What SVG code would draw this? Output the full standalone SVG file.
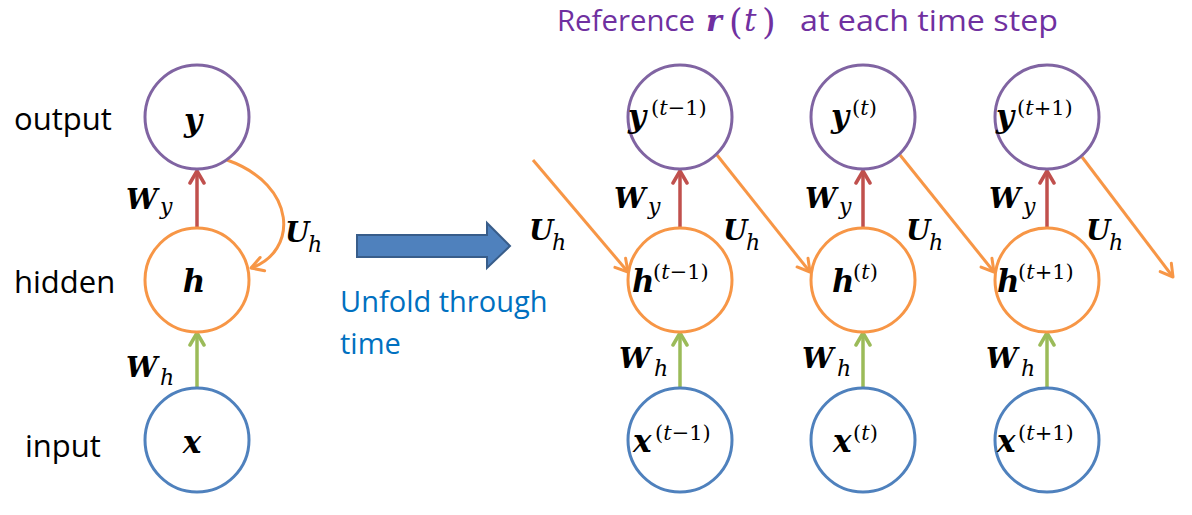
<svg xmlns="http://www.w3.org/2000/svg" width="1192" height="515" viewBox="0 0 1192 515">
<style>
.lbl{font-family:"Open Sans","Liberation Sans",sans-serif;font-size:31px;fill:#000}
.m{font-family:"DejaVu Serif","Liberation Serif",serif;font-weight:bold;font-style:italic;fill:#000}
.big{font-size:31px}
.w{font-size:28px}
.sub{font-family:"DejaVu Serif","Liberation Serif",serif;font-style:italic;font-size:22px;fill:#000}
.sup{font-family:"DejaVu Serif","Liberation Serif",serif;font-size:21px;fill:#000}
.it{font-style:italic}
.cy{fill:#fff;stroke:#8064A2;stroke-width:3}
.ch{fill:#fff;stroke:#F79646;stroke-width:3}
.cx{fill:#fff;stroke:#4F81BD;stroke-width:3}
.ar{fill:none;stroke:#C0504D;stroke-width:3.5}
.ag{fill:none;stroke:#9BBB59;stroke-width:3.5}
.ao{fill:none;stroke:#F79646;stroke-width:3}
</style>
<defs>
<marker id="mr" viewBox="0 0 18 18" refX="15" refY="9" markerWidth="18" markerHeight="18" markerUnits="userSpaceOnUse" orient="auto"><path d="M3,2 L15,9 L3,16" fill="none" stroke="#C0504D" stroke-width="3.5" stroke-linejoin="round" stroke-linecap="round"/></marker>
<marker id="mg" viewBox="0 0 18 18" refX="15" refY="9" markerWidth="18" markerHeight="18" markerUnits="userSpaceOnUse" orient="auto"><path d="M3,2 L15,9 L3,16" fill="none" stroke="#9BBB59" stroke-width="3.5" stroke-linejoin="round" stroke-linecap="round"/></marker>
<marker id="mo" viewBox="0 0 18 18" refX="15" refY="9" markerWidth="18" markerHeight="18" markerUnits="userSpaceOnUse" orient="auto"><path d="M3,2 L15,9 L3,16" fill="none" stroke="#F79646" stroke-width="3" stroke-linejoin="round" stroke-linecap="round"/></marker>
</defs>
<rect width="1192" height="515" fill="#fff"/>

<g id="title" fill="#7030A0">
<text x="557" y="31" font-family="Open Sans, Liberation Sans, sans-serif" font-size="29" textLength="138" lengthAdjust="spacingAndGlyphs">Reference</text>
<text x="706" y="31" font-family="DejaVu Serif, Liberation Serif, serif" font-weight="bold" font-style="italic" font-size="30">r</text>
<text y="34" font-family="DejaVu Serif, Liberation Serif, serif" font-size="35"><tspan x="729">(</tspan><tspan x="744" font-style="italic" font-size="31" dy="-3">t</tspan><tspan x="762" dy="3">)</tspan></text>
<text x="800" y="31" font-family="Open Sans, Liberation Sans, sans-serif" font-size="29" textLength="258" lengthAdjust="spacingAndGlyphs">at each time step</text>
</g>

<g id="row-labels">
<text class="lbl" x="14" y="130">output</text>
<text class="lbl" x="14" y="293">hidden</text>
<text class="lbl" x="25" y="457">input</text>
</g>

<g id="unfold-arrow">
<polygon points="357,235 487,235 487,223 510,246 487,268 487,257 357,257" fill="#4F81BD" stroke="#385D8A" stroke-width="2"/>
<text x="340" y="312" font-family="Open Sans, Liberation Sans, sans-serif" font-size="29" fill="#0070C0">Unfold through</text>
<text x="340" y="354" font-family="Open Sans, Liberation Sans, sans-serif" font-size="29" fill="#0070C0">time</text>
</g>

<g id="connectors">
<path class="ar" d="M197,228 L197,171" marker-end="url(#mr)"/>
<path class="ag" d="M197,388 L197,333" marker-end="url(#mg)"/>
<path class="ao" d="M227,160 C298,185 298,252 251,268" marker-end="url(#mo)"/>
<path class="ar" d="M680,228 L680,171" marker-end="url(#mr)"/>
<path class="ar" d="M863,228 L863,171" marker-end="url(#mr)"/>
<path class="ar" d="M1047,228 L1047,171" marker-end="url(#mr)"/>
<path class="ag" d="M680,388 L680,333" marker-end="url(#mg)"/>
<path class="ag" d="M863,388 L863,333" marker-end="url(#mg)"/>
<path class="ag" d="M1047,388 L1047,333" marker-end="url(#mg)"/>
<path class="ao" d="M533,160 L628,272" marker-end="url(#mo)"/>
<path class="ao" d="M717,155 L810,272" marker-end="url(#mo)"/>
<path class="ao" d="M900,155 L994,272" marker-end="url(#mo)"/>
<path class="ao" d="M1082,157 L1173,277" marker-end="url(#mo)"/>
</g>

<g id="conn-labels">
<text class="m w" x="126" y="209">W</text><text class="sub" x="160" y="214">y</text>
<text class="m w" x="126" y="377">W</text><text class="sub" x="160" y="385">h</text>
<text class="m w" x="285" y="242">U</text><text class="sub" x="308" y="252">h</text>
<text class="m w" x="529" y="240">U</text><text class="sub" x="552" y="250">h</text>
<text class="m w" x="723" y="240">U</text><text class="sub" x="746" y="250">h</text>
<text class="m w" x="906" y="240">U</text><text class="sub" x="929" y="250">h</text>
<text class="m w" x="1086" y="240">U</text><text class="sub" x="1109" y="250">h</text>
<text class="m w" x="614" y="208">W</text><text class="sub" x="648" y="214">y</text>
<text class="m w" x="805" y="208">W</text><text class="sub" x="839" y="214">y</text>
<text class="m w" x="989" y="208">W</text><text class="sub" x="1023" y="214">y</text>
<text class="m w" x="619" y="368">W</text><text class="sub" x="654" y="376">h</text>
<text class="m w" x="802" y="368">W</text><text class="sub" x="837" y="376">h</text>
<text class="m w" x="986" y="368">W</text><text class="sub" x="1021" y="376">h</text>
</g>

<g id="node-y"><circle class="cy" cx="197" cy="117" r="52"/><text class="m big" x="193" y="131" text-anchor="middle">y</text></g>
<g id="node-h"><circle class="ch" cx="197" cy="280" r="52"/><text class="m big" x="194" y="292" text-anchor="middle">h</text></g>
<g id="node-x"><circle class="cx" cx="197" cy="440" r="52"/><text class="m big" x="192" y="453" text-anchor="middle">x</text></g>

<g id="node-y1"><circle class="cy" cx="680" cy="117" r="52"/><text class="m big" x="628" y="127">y</text><text class="sup" x="651" y="115">(<tspan class="it">t</tspan>−1)</text></g>
<g id="node-y2"><circle class="cy" cx="863" cy="117" r="52"/><text class="m big" x="831" y="127">y</text><text class="sup" x="852" y="115">(<tspan class="it">t</tspan>)</text></g>
<g id="node-y3"><circle class="cy" cx="1047" cy="117" r="52"/><text class="m big" x="996" y="127">y</text><text class="sup" x="1017" y="115">(<tspan class="it">t</tspan>+1)</text></g>

<g id="node-h1"><circle class="ch" cx="680" cy="280" r="52"/><text class="m big" x="632" y="292">h</text><text class="sup" x="653" y="279">(<tspan class="it">t</tspan>−1)</text></g>
<g id="node-h2"><circle class="ch" cx="863" cy="280" r="52"/><text class="m big" x="832" y="292">h</text><text class="sup" x="853" y="279">(<tspan class="it">t</tspan>)</text></g>
<g id="node-h3"><circle class="ch" cx="1047" cy="280" r="52"/><text class="m big" x="997" y="292">h</text><text class="sup" x="1018" y="279">(<tspan class="it">t</tspan>+1)</text></g>

<g id="node-x1"><circle class="cx" cx="680" cy="440" r="52"/><text class="m big" x="633" y="452">x</text><text class="sup" x="655" y="440">(<tspan class="it">t</tspan>−1)</text></g>
<g id="node-x2"><circle class="cx" cx="863" cy="440" r="52"/><text class="m big" x="833" y="452">x</text><text class="sup" x="853" y="440">(<tspan class="it">t</tspan>)</text></g>
<g id="node-x3"><circle class="cx" cx="1047" cy="440" r="52"/><text class="m big" x="997" y="452">x</text><text class="sup" x="1018" y="440">(<tspan class="it">t</tspan>+1)</text></g>
</svg>
